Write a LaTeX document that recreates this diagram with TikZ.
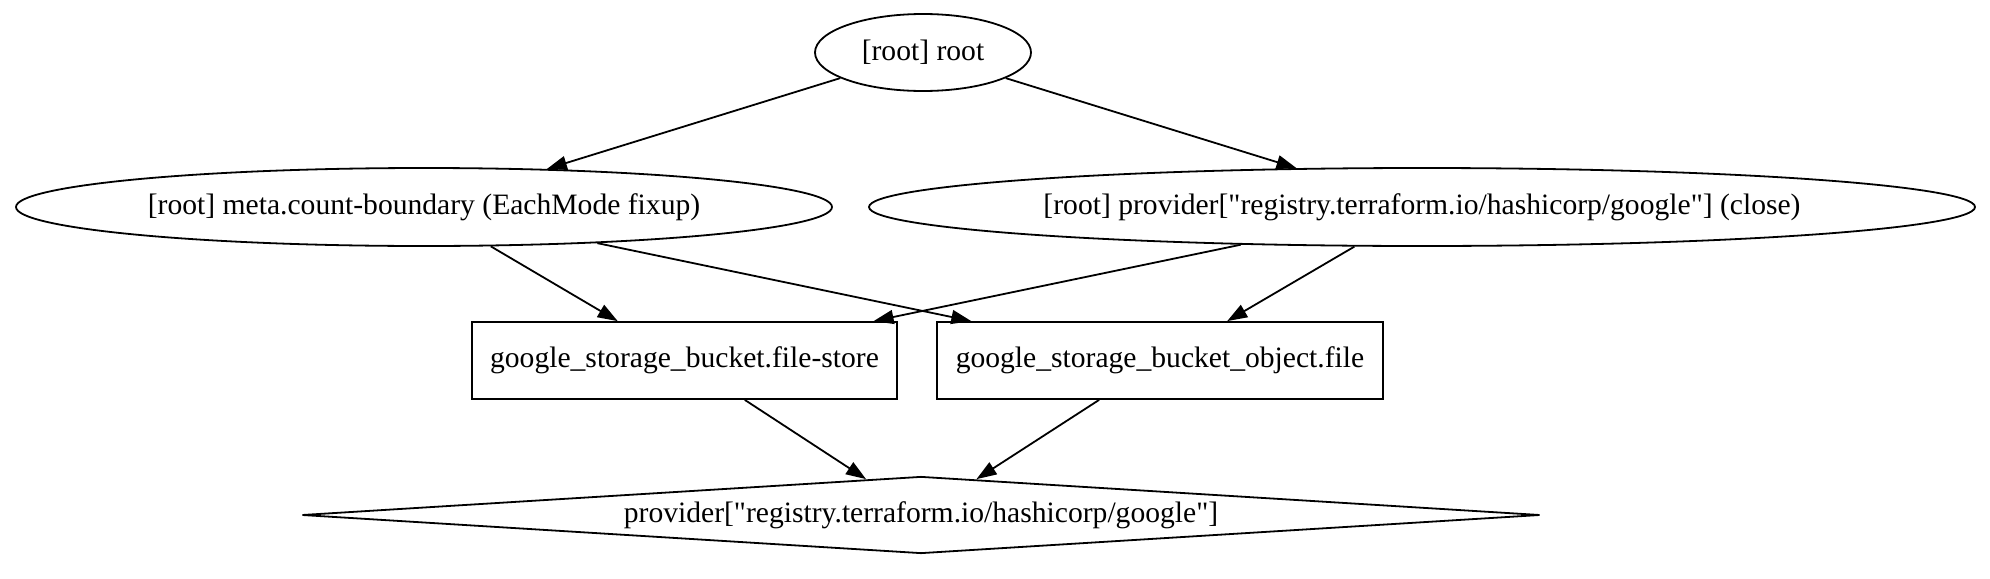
\documentclass[tikz,border=0pt]{standalone}
\usepackage{fontspec}
\setmainfont{Liberation Serif}
\usetikzlibrary{positioning, arrows.meta, shapes.geometric}

\begin{document}
\begin{tikzpicture}[x=0.5pt, y=-0.5pt, >={Triangle[length=10pt,width=7pt]},
    every node/.style={font=\fontsize{14.8}{18}\selectfont, inner sep=0pt, line width=0.9pt},
    oval/.style={draw, ellipse},
    res/.style={draw, rectangle},
    prov/.style={draw, diamond, aspect=16},
    dep/.style={->, line width=0.9pt}]
  \useasboundingbox (0,0) rectangle (1990,578);
  % Root and meta nodes
  \node[oval, minimum width=108pt, minimum height=38.5pt] (root) at (923,52.5) {[root] root};
  \node[oval, minimum width=408pt, minimum height=39pt] (meta) at (424,207) {[root] meta.count-boundary (EachMode fixup)};
  \node[oval, minimum width=553pt, minimum height=39pt] (close) at (1422,207) {[root] provider[\textquotedbl registry.terraform.io/hashicorp/google\textquotedbl] (close)};
  % Resources
  \node[res, minimum width=212.5pt, minimum height=38.5pt] (store) at (684.5,360.5) {google\_storage\_bucket.file-store};
  \node[res, minimum width=223pt, minimum height=38.5pt] (object) at (1160,360.5) {google\_storage\_bucket\_object.file};
  % Provider
  \node[prov, minimum width=619pt, minimum height=38.5pt] (google) at (921,515) {provider[\textquotedbl registry.terraform.io/hashicorp/google\textquotedbl]};
  % Edges
  \draw[dep] (root) -- (meta);
  \draw[dep] (root) -- (close);
  \foreach \src in {meta, close}
    \foreach \dst in {store, object}
      \draw[dep] (\src) -- (\dst);
  \draw[dep] (store) -- (google);
  \draw[dep] (object) -- (google);
\end{tikzpicture}
\end{document}
